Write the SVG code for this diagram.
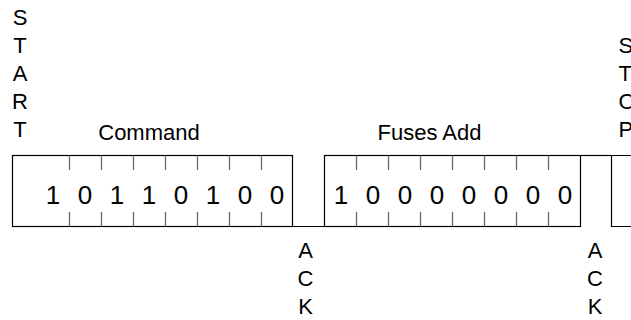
<svg xmlns="http://www.w3.org/2000/svg" width="631" height="320" viewBox="0 0 631 320">
<style>
text{font-family:"Liberation Sans",Arial,sans-serif;fill:#000}
.lbl{font-size:22px}
.v{font-size:22px;text-anchor:middle}
.d{font-size:26px;text-anchor:middle}
.box{fill:none;stroke:#000;stroke-width:1.2}
.tick{stroke:#6a6a6a;stroke-width:1.3}
.wire{fill:none;stroke:#000;stroke-width:1.2}
</style>
<rect width="631" height="320" fill="#fff"/>
<g id="start">
<text class="v" x="20" y="25">S</text>
<text class="v" x="20" y="53">T</text>
<text class="v" x="20" y="81">A</text>
<text class="v" x="20" y="109">R</text>
<text class="v" x="20" y="137">T</text>
</g>
<g id="command">
<text class="lbl" x="149" y="140" text-anchor="middle">Command</text>
<rect class="box" x="12.5" y="155.5" width="280" height="71"/>
<path class="tick" d="M69.5 155.5V170M101.5 155.5V170M133.5 155.5V170M165.5 155.5V170M197.5 155.5V170M229.5 155.5V170M261.5 155.5V170M69.5 212V226.5M101.5 212V226.5M133.5 212V226.5M165.5 212V226.5M197.5 212V226.5M229.5 212V226.5M261.5 212V226.5"/>
<text class="d" x="53" y="203.5">1</text>
<text class="d" x="85" y="203.5">0</text>
<text class="d" x="117" y="203.5">1</text>
<text class="d" x="149" y="203.5">1</text>
<text class="d" x="181" y="203.5">0</text>
<text class="d" x="213" y="203.5">1</text>
<text class="d" x="245" y="203.5">0</text>
<text class="d" x="277" y="203.5">0</text>
</g>
<g id="fuses">
<text class="lbl" x="429.5" y="140" text-anchor="middle">Fuses Add</text>
<rect class="box" x="324.5" y="155.5" width="256" height="71"/>
<path class="tick" d="M356.5 155.5V170M388.5 155.5V170M420.5 155.5V170M452.5 155.5V170M484.5 155.5V170M516.5 155.5V170M548.5 155.5V170M356.5 212V226.5M388.5 212V226.5M420.5 212V226.5M452.5 212V226.5M484.5 212V226.5M516.5 212V226.5M548.5 212V226.5"/>
<text class="d" x="341" y="203.5">1</text>
<text class="d" x="373" y="203.5">0</text>
<text class="d" x="405" y="203.5">0</text>
<text class="d" x="437" y="203.5">0</text>
<text class="d" x="469" y="203.5">0</text>
<text class="d" x="501" y="203.5">0</text>
<text class="d" x="533" y="203.5">0</text>
<text class="d" x="565" y="203.5">0</text>
</g>
<g id="stop">
<text class="lbl" x="618.5" y="53">S</text>
<text class="lbl" x="618.5" y="81">T</text>
<text class="lbl" x="618.5" y="109">O</text>
<text class="lbl" x="618.5" y="137">P</text>
<path class="box" d="M633 155.5H611.5V226.5H633"/>
</g>
<g id="ack1">
<text class="v" x="305.5" y="258">A</text>
<text class="v" x="305.5" y="286">C</text>
<text class="v" x="305.5" y="314">K</text>
</g>
<g id="ack2">
<text class="v" x="595" y="258">A</text>
<text class="v" x="595" y="286">C</text>
<text class="v" x="595" y="314">K</text>
</g>
<g id="connectors">
<path class="wire" d="M292.5 226.5H324.5"/>
<path class="wire" d="M580.5 155.5H611.5"/>
</g>
</svg>
